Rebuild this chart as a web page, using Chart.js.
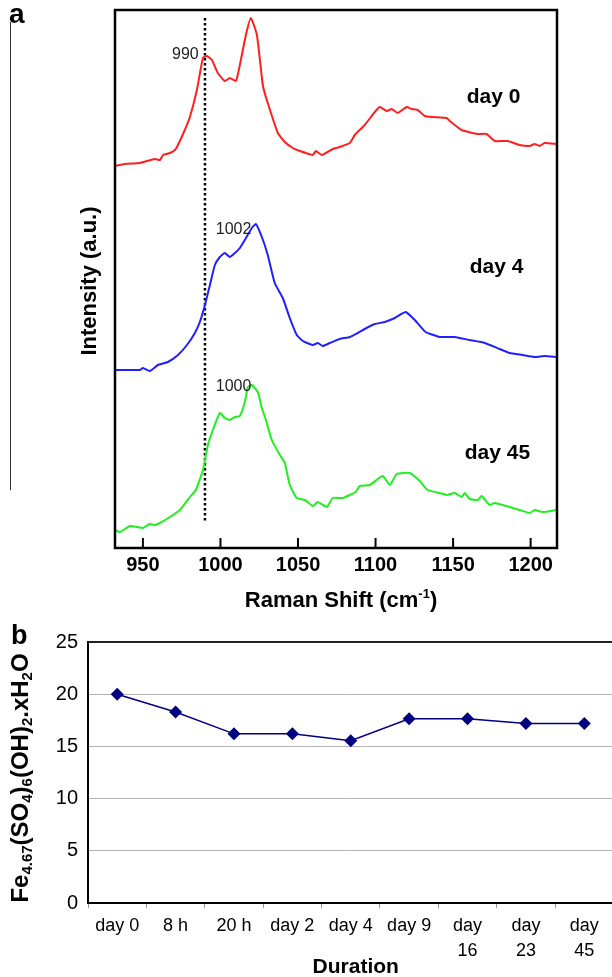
<!DOCTYPE html>
<html><head><meta charset="utf-8">
<script src="https://cdn.jsdelivr.net/npm/chart.js@4.4.1/dist/chart.umd.min.js"></script>
<style>
html,body{margin:0;padding:0;background:#fff;overflow:hidden;width:612px;height:977px;}
#ca{position:absolute;left:0;top:0;}
#cb{position:absolute;left:0;top:620px;}
</style></head><body>
<canvas id="ca" width="612" height="620"></canvas>
<canvas id="cb" width="620" height="357"></canvas>
<script>
// ---------- Panel a: Raman spectra ----------
const seriesNames = ['day 0', 'day 4', 'day 45'];
const shiftDay0 = [932,938,948,957.7,961,963,967.4,970.6,972.6,977,980.3,984.8,988.7,991.2,994.5,998.3,1002.8,1006,1010,1012.5,1016.4,1019.6,1023.5,1027.3,1029.9,1037,1041.5,1046.6,1051.2,1059.5,1061.5,1065.3,1072.4,1076.9,1083.4,1086.6,1093,1099.5,1102.7,1107.2,1110.4,1114.3,1120.1,1123.3,1127.2,1131.7,1136.9,1145.9,1147.8,1155.5,1165.9,1171.6,1176.8,1185.2,1192.9,1199.4,1202.6,1205.8,1209,1216.8];
const intDay0 = [382,384,385,389,388,393,395,398,403,418,431,458,490,492,488,475,467,470,467,483,513,530,513,463,448,415,406,400,397,393,397,393,399,401,405,413,423,436,441,437,439,435,441,439,438,432,431,430,427,418,414,414,407,407,403,402,404,402,405,404];
const shiftDay4 = [932,948,950,954.5,959.7,966.1,972.6,978.4,983.5,986.7,990,993.2,996.4,999.6,1002.8,1006,1009.3,1012.5,1015.7,1020.2,1022.8,1026.7,1030.5,1035,1040.2,1044.7,1049.2,1053.1,1059.5,1062.8,1066,1070.5,1076.9,1083.4,1088.5,1093,1099.5,1105.9,1112.4,1115.6,1119.5,1125.3,1132.3,1141.4,1151,1160.7,1170.4,1180,1186.5,1194.8,1202.6,1209,1216.8];
const intDay4 = [178,178,180,177,183,186,193,203,215,226,243,263,283,291,295,291,295,300,308,320,324,311,293,265,250,230,213,207,203,205,202,205,209,211,215,219,224,226,230,233,236,228,216,211,211,208,205,199,195,193,191,192,191];
const shiftDay45 = [932,935.2,941.6,946.1,950,954.5,957.7,961,967.4,973.8,980.3,984.1,988.7,991.9,995.1,999.6,1002.8,1006,1009.3,1012.5,1015.7,1017.7,1020.2,1024.1,1026.7,1029.3,1033.1,1038.3,1041.5,1044.7,1049.2,1054.4,1059.5,1062.8,1068.6,1072.4,1078.9,1083.4,1087.2,1089.8,1096.3,1104.6,1109.2,1113.7,1122,1128.5,1133.6,1141.4,1145.9,1151,1155.5,1157.5,1160.7,1165.9,1168.4,1173.6,1176.8,1186.5,1192.9,1199.4,1202.6,1207.7,1216.8];
const intDay45 = [18,16,22,21,20,24,23,25,31,38,51,58,78,103,118,135,130,128,131,132,146,161,163,156,140,128,108,93,85,63,50,48,42,46,41,50,50,53,56,62,63,72,63,74,75,67,58,55,53,55,51,55,49,48,52,43,45,41,38,35,38,36,38];
const markerShift = 990;
const peakLabels = ['990', '1002', '1000'];
const xTickValues = [950, 1000, 1050, 1100, 1150, 1200];

// ---------- Panel b: composition vs duration ----------
const durations = ['day 0', '8 h', '20 h', 'day 2', 'day 4', 'day 9', ['day', '16'], ['day', '23'], ['day', '45']];
const waterContent = [20, 18.3, 16.2, 16.2, 15.55, 17.65, 17.65, 17.2, 17.2];

const FONT = "'Liberation Sans', Arial, Helvetica, sans-serif";
const pairs = (xs, ys) => xs.map((x, i) => ({x: x, y: ys[i]}));

const panelA = {
  id: 'panelA',
  afterDraw(chart) {
    const ctx = chart.ctx, a = chart.chartArea, xs = chart.scales.x, ys = chart.scales.y;
    ctx.save();
    // frame
    ctx.strokeStyle = '#000'; ctx.lineWidth = 2.5;
    ctx.strokeRect(a.left, a.top, a.right - a.left, a.bottom - a.top);
    // inner ticks
    ctx.lineWidth = 2;
    xTickValues.forEach(v => {
      const px = xs.getPixelForValue(v);
      ctx.beginPath(); ctx.moveTo(px, a.bottom); ctx.lineTo(px, a.bottom - 10); ctx.stroke();
    });
    // peak labels
    ctx.fillStyle = '#222'; ctx.font = '16px ' + FONT; ctx.textBaseline = 'middle';
    const peakPos = [[986, 493, 'right'], [997, 318, 'left'], [997, 161, 'left']];
    peakLabels.forEach((t, i) => {
      ctx.textAlign = peakPos[i][2];
      ctx.fillText(t, xs.getPixelForValue(peakPos[i][0]), ys.getPixelForValue(peakPos[i][1]));
    });
    // series labels
    ctx.fillStyle = '#000'; ctx.font = 'bold 21px ' + FONT; ctx.textAlign = 'left';
    const namePos = [[1158.8, 451], [1160.7, 281], [1157.5, 95]];
    seriesNames.forEach((t, i) => {
      ctx.fillText(t, xs.getPixelForValue(namePos[i][0]), ys.getPixelForValue(namePos[i][1]));
    });
    // x title with superscript
    const cx = (a.left + a.right) / 2 + 5, cy = 601;
    const f1 = 'bold 22px ' + FONT, f2 = 'bold 13px ' + FONT;
    ctx.font = f1; const w1 = ctx.measureText('Raman Shift (cm').width; const w3 = ctx.measureText(')').width;
    ctx.font = f2; const w2 = ctx.measureText('-1').width;
    let sx = cx - (w1 + w2 + w3) / 2;
    ctx.textAlign = 'left';
    ctx.font = f1; ctx.fillText('Raman Shift (cm', sx, cy); sx += w1;
    ctx.font = f2; ctx.fillText('-1', sx, cy - 7); sx += w2;
    ctx.font = f1; ctx.fillText(')', sx, cy);
    // y title
    ctx.save();
    ctx.translate(90, (a.top + a.bottom) / 2 + 2); ctx.rotate(-Math.PI / 2);
    ctx.font = 'bold 22px ' + FONT; ctx.textAlign = 'center';
    ctx.fillText('Intensity (a.u.)', 0, 0);
    ctx.restore();
    // panel letter and side rule
    ctx.font = 'bold 28px ' + FONT; ctx.textAlign = 'left';
    ctx.fillText('a', 9, 15);
    ctx.lineWidth = 1; ctx.strokeStyle = '#333';
    ctx.beginPath(); ctx.moveTo(10.5, 22); ctx.lineTo(10.5, 490); ctx.stroke();
    ctx.restore();
  }
};

new Chart(document.getElementById('ca'), {
  type: 'line',
  data: {
    datasets: [
      {label: seriesNames[0], data: pairs(shiftDay0, intDay0), borderColor: '#ff1f1f', borderWidth: 2, pointRadius: 0, tension: 0.15},
      {label: seriesNames[1], data: pairs(shiftDay4, intDay4), borderColor: '#2020ff', borderWidth: 2, pointRadius: 0, tension: 0.15},
      {label: seriesNames[2], data: pairs(shiftDay45, intDay45), borderColor: '#22ee22', borderWidth: 2, pointRadius: 0, tension: 0.15},
      {label: 'marker', data: [{x: markerShift, y: 530}, {x: markerShift, y: 26}], borderColor: '#000', borderWidth: 2.5, borderDash: [2.5, 2.5], pointRadius: 0}
    ]
  },
  options: {
    responsive: false, animation: false, events: [],
    layout: {padding: {left: 115, right: 55, top: 10, bottom: 0}},
    plugins: {legend: {display: false}, tooltip: {enabled: false}},
    scales: {
      x: {
        type: 'linear', min: 932, max: 1217,
        afterBuildTicks: s => { s.ticks = xTickValues.map(v => ({value: v})); },
        afterFit: s => { s.height = 72; },
        grid: {display: false, drawTicks: false},
        border: {display: false},
        ticks: {padding: 5, color: '#000', font: {family: FONT, size: 20, weight: 'bold'}, maxRotation: 0,
                callback: v => String(v)}
      },
      y: {type: 'linear', min: 0, max: 538, display: false}
    }
  },
  plugins: [panelA]
});

const panelB = {
  id: 'panelB',
  afterDraw(chart) {
    const ctx = chart.ctx, a = chart.chartArea;
    ctx.save();
    ctx.fillStyle = '#000'; ctx.textBaseline = 'middle';
    ctx.font = 'bold 21px ' + FONT; ctx.textAlign = 'center';
    ctx.fillText('Duration', (a.left + a.right) / 2 + 5, 347);
    ctx.font = 'bold 27px ' + FONT; ctx.textAlign = 'left';
    ctx.fillText('b', 11, 17);
    // rotated y title with subscripts
    const big = 'bold 24px ' + FONT, small = 'bold 15px ' + FONT;
    const parts = [['Fe', 0], ['4.67', 1], ['(SO', 0], ['4', 1], [')', 0], ['6', 1], ['(OH)', 0], ['2', 1], ['.xH', 0], ['2', 1], ['O', 0]];
    let total = 0;
    parts.forEach(p => { ctx.font = p[1] ? small : big; p.push(ctx.measureText(p[0]).width); total += p[2]; });
    ctx.translate(21, 158); ctx.rotate(-Math.PI / 2);
    let x = -total / 2;
    ctx.textAlign = 'left';
    parts.forEach(p => {
      ctx.font = p[1] ? small : big;
      ctx.fillText(p[0], x, p[1] ? 7 : 0);
      x += p[2];
    });
    ctx.restore();
  }
};

new Chart(document.getElementById('cb'), {
  type: 'line',
  data: {
    labels: durations,
    datasets: [{
      data: waterContent, borderColor: '#000080', backgroundColor: '#000080', borderWidth: 1.5,
      pointStyle: 'rectRot', pointRadius: 6.5, pointBorderWidth: 0, tension: 0
    }]
  },
  options: {
    responsive: false, animation: false, events: [],
    layout: {padding: {left: 0, right: 5, top: 20, bottom: 0}},
    plugins: {legend: {display: false}, tooltip: {enabled: false}},
    scales: {
      x: {
        offset: true,
        afterFit: s => { s.height = 74; },
        grid: {offset: true, drawOnChartArea: false, drawTicks: true, tickLength: 5, color: '#999', lineWidth: 1},
        border: {display: true, color: '#000', width: 2},
        ticks: {padding: 5, color: '#000', autoSkip: false, maxRotation: 0, minRotation: 0,
                font: {family: FONT, size: 18, lineHeight: 1.4}}
      },
      y: {
        min: 0, max: 25,
        afterFit: s => { s.width = 88; },
        grid: {drawTicks: false, color: c => c.tick && c.tick.value === 25 ? '#222' : '#b4b4b4', lineWidth: c => c.tick && c.tick.value === 25 ? 2 : 1},
        border: {display: true, color: '#000', width: 2},
        ticks: {stepSize: 5, padding: 10, color: '#000', font: {family: FONT, size: 20}}
      }
    }
  },
  plugins: [panelB]
});
</script>
</body></html>
